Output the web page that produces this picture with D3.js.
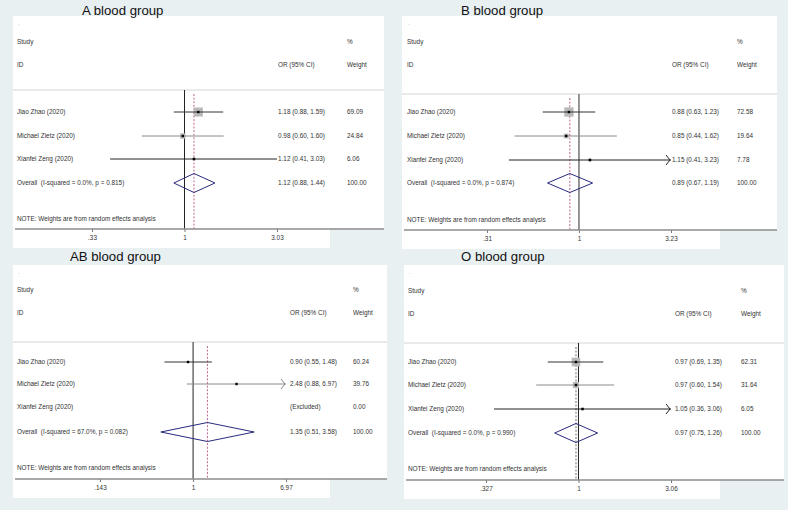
<!DOCTYPE html>
<html><head><meta charset="utf-8">
<script src="https://cdn.jsdelivr.net/npm/d3@7"></script>
<style>
html,body{margin:0;padding:0;background:#e9f0f2;}
svg{display:block;font-family:"Liberation Sans",Arial,sans-serif;}
</style></head>
<body><svg id="c" width="788" height="510"></svg>
<script>
// ---------- DATA ----------
const studies = ["Jiao Zhao (2020)", "Michael Zietz (2020)", "Xianfei Zeng (2020)"];
const panelTitles = ["A blood group", "B blood group", "AB blood group", "O blood group"];

const orA = [1.18, 0.98, 1.12], loA = [0.88, 0.60, 0.41], hiA = [1.59, 1.60, 3.03], wA = [69.09, 24.84, 6.06];
const overallA = [1.12, 0.88, 1.44], hetA = "I-squared = 0.0%, p = 0.815";
const ticksA = [0.33, 1, 3.03], tickLabelsA = [".33", "1", "3.03"];

const orB = [0.88, 0.85, 1.15], loB = [0.63, 0.44, 0.41], hiB = [1.23, 1.62, 3.23], wB = [72.58, 19.64, 7.78];
const overallB = [0.89, 0.67, 1.19], hetB = "I-squared = 0.0%, p = 0.874";
const ticksB = [0.31, 1, 3.23], tickLabelsB = [".31", "1", "3.23"];

const orAB = [0.90, 2.48, null], loAB = [0.55, 0.88, null], hiAB = [1.48, 6.97, null], wAB = [60.24, 39.76, 0.00];
const overallAB = [1.35, 0.51, 3.58], hetAB = "I-squared = 67.0%, p = 0.082";
const ticksAB = [0.143, 1, 6.97], tickLabelsAB = [".143", "1", "6.97"];

const orO = [0.97, 0.97, 1.05], loO = [0.69, 0.60, 0.36], hiO = [1.35, 1.54, 3.06], wO = [62.31, 31.64, 6.05];
const overallO = [0.97, 0.75, 1.26], hetO = "I-squared = 0.0%, p = 0.990";
const ticksO = [0.327, 1, 3.06], tickLabelsO = [".327", "1", "3.06"];

const arrowsA = [false, false, false], arrowsB = [false, false, true], arrowsAB = [false, true, false], arrowsO = [false, false, true];

// ---------- LAYOUT (positions / styles only) ----------
const panels = [
  {title: panelTitles[0], or: orA, lo: loA, hi: hiA, w: wA, ov: overallA, het: hetA, ticks: ticksA, tl: tickLabelsA, arrows: arrowsA,
   box: [13, 16, 384, 229], lowerRight: 330, titleX: 82, titleY: 15, studyX: 17, orX: 278, wX: 347,
   yStudy: 42, yID: 65, ySep: 90, rows: [112, 136, 159, 183], yNote: 219, yAxis: 229, yTick: 239, range: [92, 277],
   boxes: true, nullColor: "#222", nullW: 1, dashColor: "#c0668c", dashW: 1},
  {title: panelTitles[1], or: orB, lo: loB, hi: hiB, w: wB, ov: overallB, het: hetB, ticks: ticksB, tl: tickLabelsB, arrows: arrowsB,
   box: [402, 16, 777, 230], lowerRight: 720, titleX: 461, titleY: 15, studyX: 407, orX: 672, wX: 737,
   yStudy: 42, yID: 65, ySep: 94, rows: [112, 136, 160, 183], yNote: 220, yAxis: 230, yTick: 240, range: [487, 671],
   boxes: true, nullColor: "#8a8a8a", nullW: 1.8, dashColor: "#c0668c", dashW: 1},
  {title: panelTitles[2], or: orAB, lo: loAB, hi: hiAB, w: wAB, ov: overallAB, het: hetAB, ticks: ticksAB, tl: tickLabelsAB, arrows: arrowsAB,
   box: [13, 265, 387, 479], lowerRight: 330, titleX: 70, titleY: 261, studyX: 17, orX: 290, wX: 353,
   yStudy: 290, yID: 313, ySep: 342, rows: [362, 384, 407, 432], yNote: 468, yAxis: 479, yTick: 489, range: [100, 286],
   boxes: false, nullColor: "#222", nullW: 1, dashColor: "#c0668c", dashW: 1},
  {title: panelTitles[3], or: orO, lo: loO, hi: hiO, w: wO, ov: overallO, het: hetO, ticks: ticksO, tl: tickLabelsO, arrows: arrowsO,
   box: [404, 265, 784, 480], lowerRight: 720, titleX: 461, titleY: 261, studyX: 408, orX: 675, wX: 741,
   yStudy: 291, yID: 314, ySep: 343, rows: [362, 385, 409, 433], yNote: 469, yAxis: 480, yTick: 490, range: [486, 671],
   boxes: true, nullColor: "#222", nullW: 1, dashColor: "#b4b4b4", dashW: 2}
];
const lineColors = ["#333", "#8a8a8a", "#222"];
const txt = "#333";
const fs = 6.4;

const svg = d3.select("#c");
svg.append("rect").attr("width", 788).attr("height", 510).attr("fill", "#e9f0f2");

panels.forEach(p => {
  const g = svg.append("g");
  const [x0, y0, x1, y1] = p.box;
  g.append("rect").attr("x", x0).attr("y", y0).attr("width", x1 - x0).attr("height", y1 - y0).attr("fill", "#fff");
  g.append("rect").attr("x", x0).attr("y", y1).attr("width", p.lowerRight - x0).attr("height", 19).attr("fill", "#fff");

  svg.append("text").attr("x", p.titleX).attr("y", p.titleY).attr("font-size", 13.2).attr("fill", "#111").text(p.title);

  const t = (x, y, s, anchor) => g.append("text").attr("x", x).attr("y", y).attr("dy", "0.35em")
      .attr("font-size", fs).attr("fill", txt).attr("text-anchor", anchor || "start").style("white-space", "pre").text(s);

  t(p.studyX + 1, y0 + 7, ".").attr("fill", "#bbb");
  t(p.studyX, p.yStudy, "Study");
  t(p.studyX, p.yID, "ID");
  t(p.orX, p.yID, "OR (95% CI)");
  t(p.wX, p.yStudy, "%");
  t(p.wX, p.yID, "Weight");

  g.append("line").attr("x1", x0).attr("x2", x1).attr("y1", p.ySep).attr("y2", p.ySep).attr("stroke", "#d4d4d4").attr("stroke-width", 1);

  const x = d3.scaleLog().domain([p.ticks[0], p.ticks[p.ticks.length - 1]]).range(p.range);

  g.append("line").attr("x1", x(1)).attr("x2", x(1)).attr("y1", p.ySep).attr("y2", p.yAxis)
    .attr("stroke", p.nullColor).attr("stroke-width", p.nullW);
  g.append("line").attr("x1", x(p.ov[0])).attr("x2", x(p.ov[0])).attr("y1", p.ySep + 4).attr("y2", p.yAxis)
    .attr("stroke", p.dashColor).attr("stroke-width", p.dashW).attr("stroke-dasharray", "2,1.6");

  studies.forEach((s, i) => {
    const y = p.rows[i];
    t(p.studyX, y, s);
    t(p.wX, y, p.w[i].toFixed(2));
    if (p.or[i] == null) { t(p.orX, y, "(Excluded)"); return; }
    t(p.orX, y, `${p.or[i].toFixed(2)} (${p.lo[i].toFixed(2)}, ${p.hi[i].toFixed(2)})`);
    if (p.boxes) {
      const side = 1.09 * Math.sqrt(p.w[i]);
      g.append("rect").attr("x", x(p.or[i]) - side / 2).attr("y", y - side / 2).attr("width", side).attr("height", side).attr("fill", "#b9b9b9");
    }
    g.append("line").attr("x1", x(p.lo[i])).attr("x2", x(p.hi[i])).attr("y1", y).attr("y2", y)
      .attr("stroke", lineColors[i]).attr("stroke-width", 1);
    if (p.arrows[i]) {
      const ax = x(p.hi[i]) - 1;
      g.append("path").attr("d", `M${ax - 4},${y - 5}L${ax},${y}L${ax - 4},${y + 5}`).attr("fill", "none").attr("stroke", lineColors[i]).attr("stroke-width", 1);
    }
    g.append("rect").attr("x", x(p.or[i]) - 1.2).attr("y", y - 1.2).attr("width", 2.4).attr("height", 2.4).attr("fill", "#000");
  });

  const yo = p.rows[3];
  t(p.studyX, yo, `Overall  (${p.het})`);
  t(p.orX, yo, `${p.ov[0].toFixed(2)} (${p.ov[1].toFixed(2)}, ${p.ov[2].toFixed(2)})`);
  t(p.wX, yo, "100.00");
  const hh = 9.5;
  g.append("path").attr("d", `M${x(p.ov[1])},${yo}L${x(p.ov[0])},${yo - hh}L${x(p.ov[2])},${yo}L${x(p.ov[0])},${yo + hh}Z`)
    .attr("fill", "none").attr("stroke", "#2a2a7e").attr("stroke-width", 1);

  t(p.studyX, p.yNote, "NOTE: Weights are from random effects analysis");

  const ax = g.append("g").attr("transform", `translate(0,${p.yAxis})`)
    .call(d3.axisBottom(x).tickValues(p.ticks).tickFormat((d, i) => p.tl[i]).tickSize(3).tickPadding(3));
  ax.select(".domain").remove();
  ax.selectAll(".tick line").attr("stroke", "#777");
  ax.selectAll(".tick text").attr("font-size", fs).attr("fill", txt).attr("font-family", "Liberation Sans, Arial, sans-serif");
  g.append("line").attr("x1", x0 + 2).attr("x2", x1).attr("y1", p.yAxis).attr("y2", p.yAxis).attr("stroke", "#8c8c8c").attr("stroke-width", 1.3);
});
</script></body></html>
